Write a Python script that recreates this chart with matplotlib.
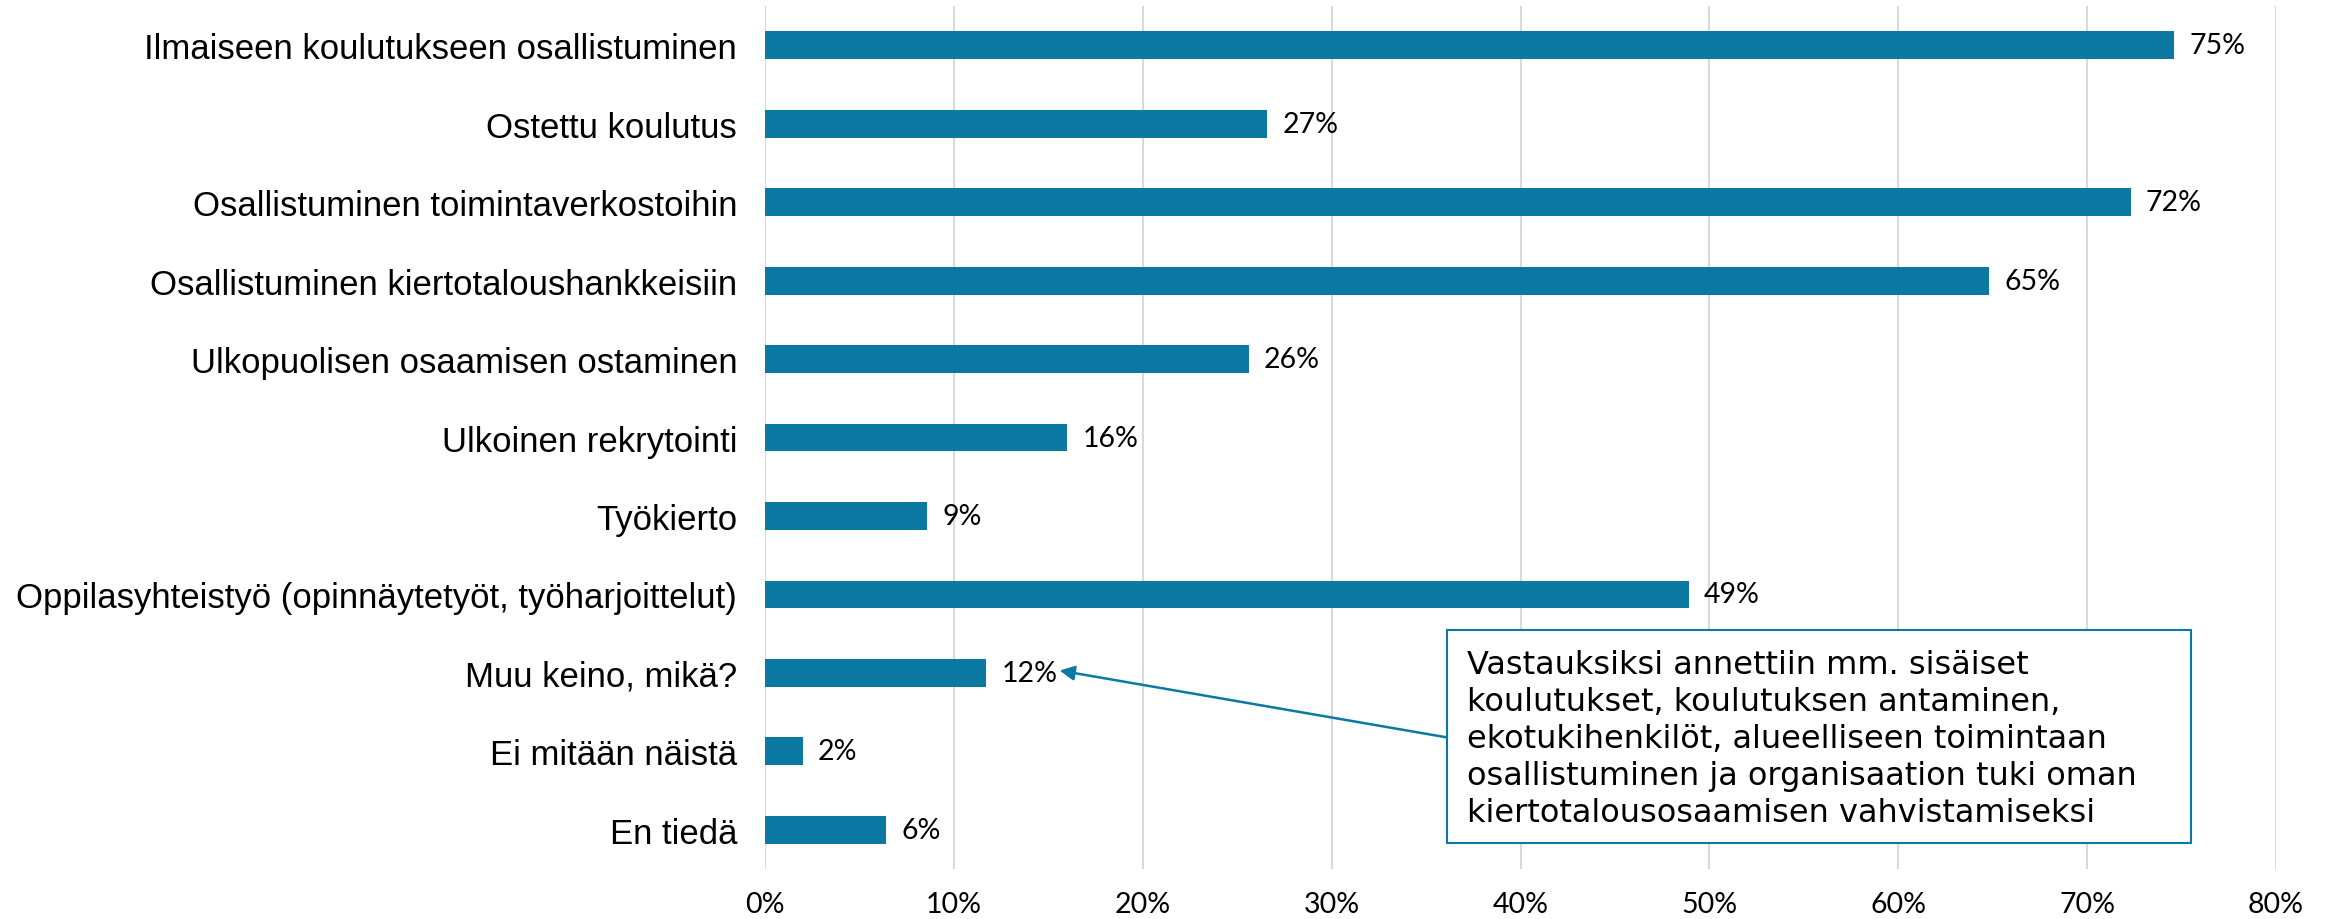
import matplotlib.pyplot as plt
from matplotlib.patches import Rectangle

categories = [
    "Ilmaiseen koulutukseen osallistuminen",
    "Ostettu koulutus",
    "Osallistuminen toimintaverkostoihin",
    "Osallistuminen kiertotaloushankkeisiin",
    "Ulkopuolisen osaamisen ostaminen",
    "Ulkoinen rekrytointi",
    "Työkierto",
    "Oppilasyhteistyö (opinnäytetyöt, työharjoittelut)",
    "Muu keino, mikä?",
    "Ei mitään näistä",
    "En tiedä",
]
values = [74.6, 26.6, 72.3, 64.8, 25.6, 16.0, 8.6, 48.9, 11.7, 2.0, 6.4]
value_labels = ["75%", "27%", "72%", "65%", "26%", "16%", "9%", "49%", "12%", "2%", "6%"]
x_ticks = [0, 10, 20, 30, 40, 50, 60, 70, 80]

note = ("Vastauksiksi annettiin mm. sisäiset\n"
        "koulutukset, koulutuksen antaminen,\n"
        "ekotukihenkilöt, alueelliseen toimintaan\n"
        "osallistuminen ja organisaation tuki oman\n"
        "kiertotalousosaamisen vahvistamiseksi")

teal = "#0b79a1"
num_font = ["Lato", "DejaVu Sans"]

fig = plt.figure(figsize=(23.26, 9.2), dpi=100)
ax = fig.add_axes([0.3289, 0.0543, 0.6496, 0.9381])

pos = list(range(len(categories)))
bars = ax.barh(pos, values, height=0.355, color=teal, zorder=3)
ax.bar_label(bars, labels=value_labels, padding=11, fontsize=20.5, family=num_font)

ax.set_ylim(len(categories) - 0.5, -0.5)
ax.set_xlim(0, 80)
ax.set_yticks(pos)
ax.set_yticklabels(categories, fontsize=25, family="Liberation Sans")
ax.set_xticks(x_ticks)
ax.set_xticklabels([f"{t}%" for t in x_ticks], fontsize=20.5, family=num_font)
ax.tick_params(axis="y", length=0, pad=20)
ax.tick_params(axis="x", length=0, pad=16)

ax.grid(axis="x", color="#d9d9d9", linewidth=1.5, zorder=0)
for s in ax.spines.values():
    s.set_visible(False)

# note box + arrow pointing at "Muu keino"
ax.add_patch(Rectangle((36.1, 7.45), 39.4, 2.72, facecolor="white",
                       edgecolor=teal, linewidth=1.5, zorder=4))
ax.text(37.15, 8.84, note, fontsize=23, family="DejaVu Sans", va="center", ha="left",
        linespacing=1.25, zorder=5)
ax.annotate("", xy=(15.6, 7.97), xytext=(36.05, 8.82),
            arrowprops=dict(arrowstyle="-|>", color=teal, lw=1.8,
                            mutation_scale=22, shrinkA=0, shrinkB=0),
            zorder=5)

fig.savefig("out.png", dpi=100)
